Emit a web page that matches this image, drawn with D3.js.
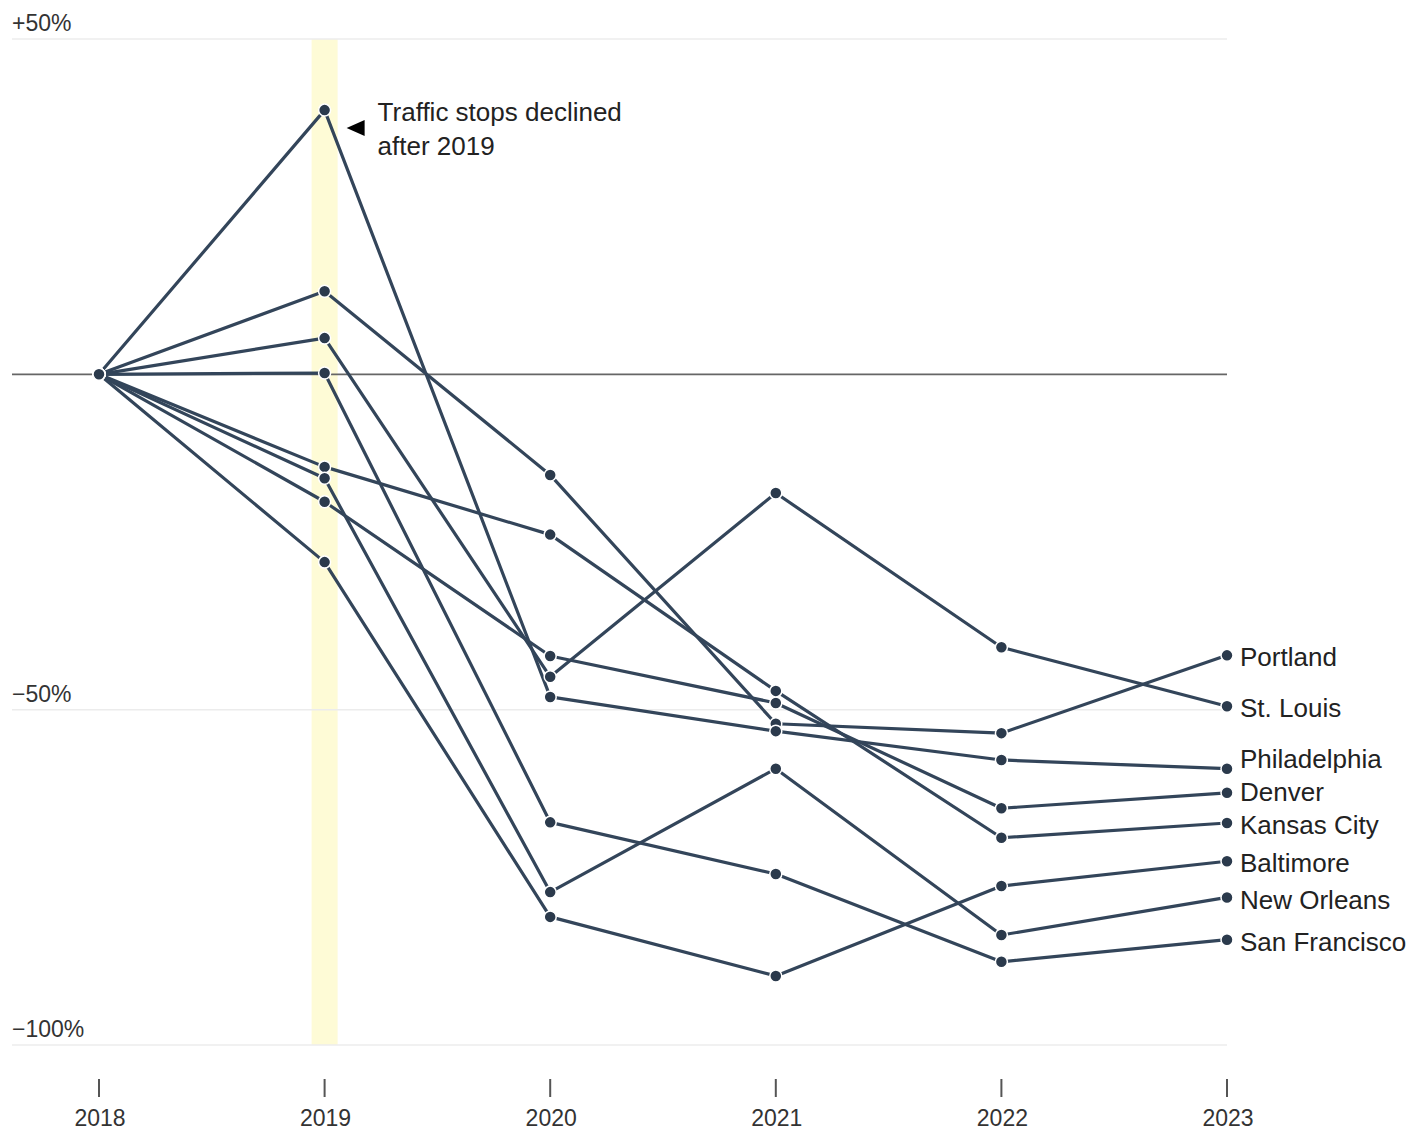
<!DOCTYPE html>
<html>
<head>
<meta charset="utf-8">
<script src="https://cdn.jsdelivr.net/npm/d3@7"></script>
<style>
    body { margin: 0; background: #fff; }
    #chart { width: 1411px; height: 1132px; }
    text { font-family: "Liberation Sans", Arial, sans-serif; fill: #222; }
    .grid line { stroke: #ececec; stroke-width: 1.5; }
    .y-label { font-size: 23px; fill: #333; }
    .x-label { font-size: 23px; fill: #333; }
    .city-label { font-size: 26px; fill: #222; }
    .note { font-size: 26px; fill: #222; }
</style>
</head>
<body>
<div id="chart"></div>
<script>

// % change in traffic stops since 2018
const years = [2018, 2019, 2020, 2021, 2022, 2023];

const portland     = [0, 12.4, -15.0, -52.1, -53.5, -41.9];
const stLouis      = [0, 5.4, -45.1, -17.7, -40.7, -49.5];
const philadelphia = [0, 39.4, -48.1, -53.2, -57.5, -58.8];
const denver       = [0, -19.0, -42.0, -49.0, -64.7, -62.4];
const kansasCity   = [0, -13.8, -23.9, -47.2, -69.1, -66.9];
const baltimore    = [0, -28.0, -80.9, -89.7, -76.3, -72.6];
const newOrleans   = [0, -15.5, -77.2, -58.8, -83.6, -78.0];
const sanFrancisco = [0, 0.2, -66.8, -74.5, -87.6, -84.3];

const cityNames = ["Portland", "St. Louis", "Philadelphia", "Denver",
    "Kansas City", "Baltimore", "New Orleans", "San Francisco"];
const cityValues = [portland, stLouis, philadelphia, denver,
    kansasCity, baltimore, newOrleans, sanFrancisco];

const yTicks = [50, -50, -100];
const highlightYear = 2019;

class StopsChart {
    constructor(_parentElement) {
        this.parentElement = _parentElement;
        this.data = cityNames.map((name, i) => ({
            name: name,
            values: years.map((y, j) => ({year: y, value: cityValues[i][j]}))
        }));
        this.initVis();
    }

    initVis() {
        let vis = this;

        vis.width = 1411;
        vis.height = 1132;

        vis.svg = d3.select("#" + vis.parentElement).append("svg")
            .attr("width", vis.width)
            .attr("height", vis.height);

        vis.x = d3.scaleLinear()
            .domain([2018, 2023])
            .range([99, 1227]);

        vis.y = d3.scaleLinear()
            .domain([-100, 50])
            .range([1045, 39]);

        vis.lineColor = "#33455a";
        vis.dotColor = "#2b3a4c";

        vis.updateVis();
    }

    updateVis() {
        let vis = this;
        let left = 12, right = vis.x(2023);

        // 2019 highlight band
        vis.svg.append("rect")
            .attr("x", vis.x(highlightYear) - 13)
            .attr("y", vis.y(50))
            .attr("width", 26)
            .attr("height", vis.y(-100) - vis.y(50))
            .style("fill", "#fefbd6");

        // gridlines + labels
        let grid = vis.svg.append("g").attr("class", "grid");
        grid.selectAll("line")
            .data(yTicks)
            .enter()
            .append("line")
            .attr("x1", left)
            .attr("x2", right)
            .attr("y1", d => vis.y(d))
            .attr("y2", d => vis.y(d));

        vis.svg.selectAll(".y-label")
            .data(yTicks)
            .enter()
            .append("text")
            .attr("class", "y-label")
            .attr("x", left)
            .attr("y", d => vis.y(d) - 8)
            .text(d => (d > 0 ? "+" : "\u2212") + Math.abs(d) + "%");

        // zero baseline
        vis.svg.append("line")
            .attr("x1", left)
            .attr("x2", right)
            .attr("y1", vis.y(0))
            .attr("y2", vis.y(0))
            .style("stroke", "#666")
            .style("stroke-width", 1.6);

        // x axis: ticks and years
        let xAxis = vis.svg.append("g").attr("class", "x-axis");
        xAxis.selectAll("line")
            .data(years)
            .enter()
            .append("line")
            .attr("x1", d => vis.x(d))
            .attr("x2", d => vis.x(d))
            .attr("y1", 1079)
            .attr("y2", 1097)
            .style("stroke", "#555")
            .style("stroke-width", 2);

        xAxis.selectAll("text")
            .data(years)
            .enter()
            .append("text")
            .attr("class", "x-label")
            .attr("x", d => vis.x(d) + 1)
            .attr("y", 1126)
            .style("text-anchor", "middle")
            .text(d => d);

        // lines
        vis.line = d3.line()
            .x(d => vis.x(d.year))
            .y(d => vis.y(d.value));

        vis.svg.append("g")
            .selectAll("path")
            .data(vis.data)
            .enter()
            .append("path")
            .attr("d", d => vis.line(d.values))
            .style("fill", "none")
            .style("stroke", vis.lineColor)
            .style("stroke-width", 3.2)
            .style("stroke-linejoin", "round");

        // dots
        vis.svg.append("g")
            .selectAll("circle")
            .data(vis.data.flatMap(d => d.values))
            .enter()
            .append("circle")
            .attr("cx", d => vis.x(d.year))
            .attr("cy", d => vis.y(d.value))
            .attr("r", 6)
            .style("fill", vis.dotColor)
            .style("stroke", "#fff")
            .style("stroke-width", 1.5);

        // end labels, pushed apart from the bottom up
        let ends = vis.data
            .map(d => ({name: d.name, y: vis.y(d.values[d.values.length - 1].value)}))
            .sort((a, b) => b.y - a.y);
        let gap = 33;
        ends.forEach((d, i) => {
            d.ly = i === 0 ? d.y : Math.min(d.y, ends[i - 1].ly - gap);
        });

        vis.svg.selectAll(".city-label")
            .data(ends)
            .enter()
            .append("text")
            .attr("class", "city-label")
            .attr("x", vis.x(2023) + 13)
            .attr("y", d => d.ly + 2)
            .attr("dy", "0.35em")
            .text(d => d.name);

        // annotation
        let ax = vis.x(highlightYear), ay = vis.y(philadelphia[1]);
        vis.svg.append("path")
            .attr("d", `M${ax + 22},${ay + 18} L${ax + 40},${ay + 10} L${ax + 40},${ay + 26} Z`)
            .style("fill", "#000");

        let note = vis.svg.append("text")
            .attr("class", "note")
            .attr("x", ax + 53)
            .attr("y", ay + 11);
        note.append("tspan").attr("x", ax + 53).text("Traffic stops declined");
        note.append("tspan").attr("x", ax + 53).attr("dy", 34).text("after 2019");
    }
}

new StopsChart("chart");
</script>
</body>
</html>
